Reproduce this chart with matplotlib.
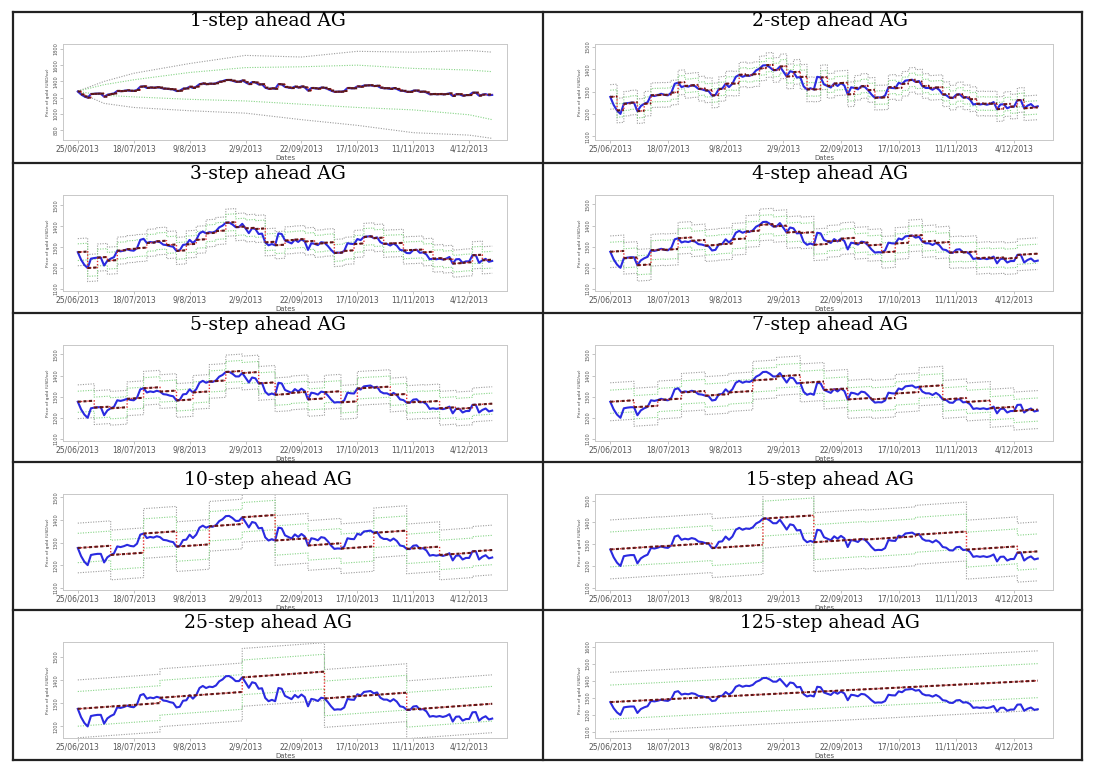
import matplotlib.pyplot as plt
from matplotlib.lines import Line2D

plt.rcParams['font.family'] = ['DejaVu Sans']

# gold price (USD/oz), trading days from 25/06/2013
price = [
    1276, 1240, 1215, 1200,
    1245, 1248, 1250, 1250, 1212, 1235, 1245, 1252, 1283, 1280, 1284, 1290,
    1285, 1283, 1295, 1335, 1340, 1320, 1325, 1322, 1328, 1324, 1312,
    1310, 1305, 1302, 1282, 1285, 1311, 1313, 1335, 1320, 1335, 1366, 1375,
    1366, 1372, 1370, 1377, 1395, 1403, 1417, 1418, 1409, 1396,
    1396, 1412, 1390, 1367, 1391, 1387, 1363, 1365, 1323, 1309, 1315, 1309,
    1366, 1363, 1332, 1325, 1318, 1336, 1325, 1338, 1327,
    1287, 1319, 1316, 1310, 1324, 1321, 1306, 1287, 1272, 1274, 1273, 1282,
    1319, 1316, 1315, 1339, 1334, 1349, 1351, 1353, 1343, 1347, 1324,
    1316, 1316, 1308, 1318, 1307, 1287, 1284, 1272, 1271, 1286, 1288,
    1273, 1275, 1265, 1242, 1245, 1242, 1245, 1241, 1245, 1253,
    1221, 1242, 1243, 1225, 1232, 1232, 1261, 1262, 1225, 1237, 1244, 1230, 1234,
]

date_labels = ['25/06/2013', '18/07/2013', '9/8/2013', '2/9/2013',
               '22/09/2013', '17/10/2013', '11/11/2013', '4/12/2013']
tick_step = 17

horizons = [1, 2, 3, 4, 5, 7, 10, 15, 25, 125]
drift = 1.0  # forecast drift per step (USD/oz)

# half widths of the intervals (USD/oz)
outer_w = [0, 55, 65, 75, 80, 90, 110, 135, 125, 175]
inner_w = [0, 30, 40, 45, 50, 55, 65, 80, 75, 100]

# 1-step panel: bounds read at a few dates
fan_idx = [0, 8, 17, 34, 51, 68, 85, 102, 119, 126]
fan_outer_up = [1280, 1400, 1500, 1620, 1720, 1700, 1770, 1760, 1780, 1760]
fan_inner_up = [1280, 1360, 1420, 1510, 1570, 1580, 1600, 1560, 1540, 1520]
fan_inner_lo = [1275, 1230, 1210, 1180, 1160, 1120, 1080, 1050, 990, 930]
fan_outer_lo = [1270, 1130, 1080, 1040, 1010, 930, 860, 770, 740, 700]

ylims = [(680, 1860), (1083, 1513), (1090, 1550), (1090, 1545), (1090, 1545),
         (1090, 1545), (1090, 1515), (1090, 1530), (1150, 1565), (1065, 1629)]
yticks = [[800, 1000, 1200, 1400, 1600, 1800],
          [1100, 1200, 1300, 1400, 1500], [1100, 1200, 1300, 1400, 1500],
          [1100, 1200, 1300, 1400, 1500], [1100, 1200, 1300, 1400, 1500],
          [1100, 1200, 1300, 1400, 1500], [1100, 1200, 1300, 1400, 1500],
          [1100, 1200, 1300, 1400, 1500], [1200, 1300, 1400, 1500],
          [1100, 1200, 1300, 1400, 1500, 1600]]

W, H = 1095, 763
fig = plt.figure(figsize=(W / 100, H / 100), dpi=100)


def fx(px):
    return px / W


def fy(py):
    return 1 - py / H


# table borders
col_x = [13, 543, 1082]
row_y = [12, 163, 313, 462, 610, 760]
for x in col_x:
    fig.add_artist(Line2D([fx(x), fx(x)], [fy(12), fy(760)], color='#222222', lw=1.6))
for y in row_y:
    fig.add_artist(Line2D([fx(13), fx(1082)], [fy(y), fy(y)], color='#222222', lw=1.6))

ax_x = [(63, 507), (595, 1053)]
title_x = [268, 830]
title_base = [26, 179, 330, 485, 628]

gray = '#9c9c9c'
green = '#86d486'
dots = (0, (1, 1.3))

n = len(price)
days = list(range(n))

for i, h in enumerate(horizons):
    row, col = i // 2, i % 2
    top = row_y[row] + 32
    bot = row_y[row] + 128
    x0, x1 = ax_x[col]
    ax = fig.add_axes([fx(x0), fy(bot), fx(x1 - x0), (bot - top) / H])

    fig.text(fx(title_x[col]), fy(title_base[row]), f'{h}-step ahead AG',
             family='DejaVu Serif', fontsize=13.5, ha='center', va='baseline')

    # forecast origins every h steps, the last one runs to the end
    origins = [o for o in range(0, n - 1, h) if o == 0 or n - 1 - o > 2]
    ends = origins[1:] + [n - 1]
    xs, fc = [], []
    for o, e in zip(origins, ends):
        xs += [o, e]
        fc += [price[o], price[o] + drift * (e - o)]

    if h == 1:
        ax.plot(fan_idx, fan_outer_up, color=gray, lw=0.8, ls=dots)
        ax.plot(fan_idx, fan_outer_lo, color=gray, lw=0.8, ls=dots)
        ax.plot(fan_idx, fan_inner_up, color=green, lw=0.8, ls=dots)
        ax.plot(fan_idx, fan_inner_lo, color=green, lw=0.8, ls=dots)
    else:
        ow, iw = outer_w[i], inner_w[i]
        ax.plot(xs, [f + ow for f in fc], color=gray, lw=0.8, ls=dots)
        ax.plot(xs, [f - ow for f in fc], color=gray, lw=0.8, ls=dots)
        ax.plot(xs, [f + iw for f in fc], color=green, lw=0.8, ls=dots)
        ax.plot(xs, [f - iw for f in fc], color=green, lw=0.8, ls=dots)

    ax.plot(days, price, color='#2a2ae0', lw=1.5)
    ax.plot(xs, fc, color='#e03030', lw=1.0, ls=dots)
    for k in range(0, len(xs), 2):
        ax.plot(xs[k:k + 2], fc[k:k + 2], color='#5a1818', lw=1.5,
                ls=(0, (1.5, 1.2)))

    ax.set_xlim(-4.5, 130.5)
    ax.set_ylim(*ylims[i])
    ax.set_xticks([k * tick_step for k in range(len(date_labels))])
    ax.set_xticklabels(date_labels, fontsize=5.5, color='#555555')
    ax.set_yticks(yticks[i])
    ax.set_yticklabels([str(v) for v in yticks[i]], fontsize=3.6,
                       color='#555555', rotation=90, va='center')
    ax.tick_params(length=2, width=0.5, colors='#aaaaaa', pad=1.5,
                   labelcolor='#555555')
    for s in ax.spines.values():
        s.set_color('#c8c8c8')
        s.set_linewidth(0.7)
    ax.set_xlabel('Dates', fontsize=5, color='#555555', labelpad=1)
    ax.set_ylabel('Price of gold (USD/oz)', fontsize=3.2, color='#444444',
                  labelpad=2)

fig.savefig('out.png', dpi=100)
